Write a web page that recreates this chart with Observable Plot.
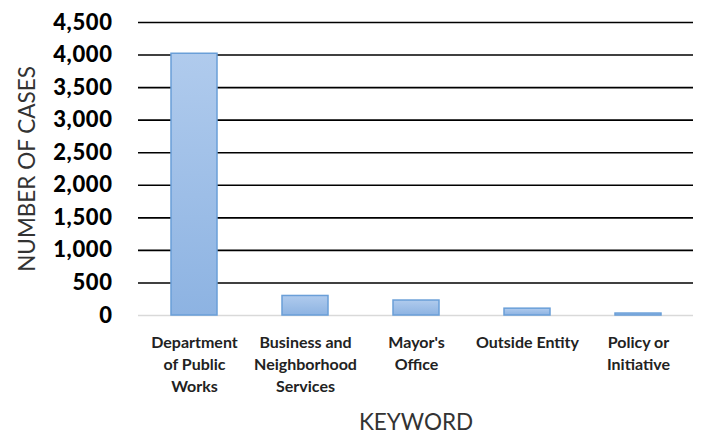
<!DOCTYPE html>
<html>
<head>
<meta charset="utf-8">
<script src="https://cdn.jsdelivr.net/npm/d3@7"></script>
<script src="https://cdn.jsdelivr.net/npm/@observablehq/plot@0.6"></script>
<style>
  body { margin: 0; background: #fff; }
  #chart { width: 702px; height: 435px; }
  svg { font-family: Lato, "Open Sans", sans-serif; }
</style>
</head>
<body>
<div id="chart"></div>
<script>
const categories = ["Department of Public Works", "Business and Neighborhood Services", "Mayor's Office", "Outside Entity", "Policy or Initiative"];
const categoryLabels = ["Department\nof Public\nWorks", "Business and\nNeighborhood\nServices", "Mayor's\nOffice", "Outside Entity", "Policy or\nInitiative"];
const cases = [4020, 300, 230, 105, 30];
const yTicks = [0, 500, 1000, 1500, 2000, 2500, 3000, 3500, 4000, 4500];

const data = categories.map((c, i) => ({category: c, label: categoryLabels[i], value: cases[i]}));
const labelOf = new Map(data.map(d => [d.category, d.label]));

const plot = Plot.plot({
  width: 702,
  height: 435,
  marginLeft: 138,
  marginRight: 9,
  marginTop: 22,
  marginBottom: 120,
  style: {fontFamily: "Lato, 'Open Sans', sans-serif", background: "#fff", overflow: "visible"},
  x: {domain: categories, paddingInner: 0.59, paddingOuter: 0.295},
  y: {domain: [0, 4500]},
  marks: [
    Plot.gridY(yTicks.filter(t => t > 0), {stroke: "#000", strokeOpacity: 1, strokeWidth: 1.6}),
    Plot.ruleY([0], {stroke: "#d9d9d9", strokeWidth: 1.5}),
    Plot.barY(data, {x: "category", y: "value", fill: "url(#barGrad)", stroke: "#6a9fd8", strokeWidth: 1.5}),
    Plot.axisY({ticks: yTicks, tickFormat: d3.format(","), tickSize: 0, tickPadding: 26,
      fontSize: 22, fontWeight: 900, fill: "#000",
      label: "NUMBER OF CASES", labelAnchor: "center", labelOffset: 119}),
    Plot.axisX({tickSize: 0, tickPadding: 17, tickFormat: d => labelOf.get(d), fontSize: 16, fontWeight: "bold",
      fill: "#222", lineHeight: 1.375,
      label: "KEYWORD", labelAnchor: "center", labelOffset: 114})
  ]
});

// gradient for bars
const ns = "http://www.w3.org/2000/svg";
const defs = document.createElementNS(ns, "defs");
const grad = document.createElementNS(ns, "linearGradient");
grad.setAttribute("id", "barGrad");
grad.setAttribute("x1", "0"); grad.setAttribute("y1", "0");
grad.setAttribute("x2", "0"); grad.setAttribute("y2", "1");
[["0%", "#b0cbed"], ["100%", "#8db3e2"]].forEach(([o, c]) => {
  const s = document.createElementNS(ns, "stop");
  s.setAttribute("offset", o); s.setAttribute("stop-color", c);
  grad.appendChild(s);
});
defs.appendChild(grad);
plot.insertBefore(defs, plot.firstChild);

// axis label styling (remove arrow, match font)
plot.querySelectorAll("[aria-label='y-axis label'] text, [aria-label='x-axis label'] text").forEach(t => {
  t.textContent = t.textContent.replace(/\s*[↑→←↓]\s*/g, "").trim();
  t.setAttribute("font-size", "22.5");
  t.setAttribute("font-weight", "normal");
  t.setAttribute("fill", "#333");
});
plot.querySelectorAll("[aria-label='y-axis tick label'] text").forEach(t => {
  t.setAttribute("letter-spacing", "0.6");
});

document.getElementById("chart").appendChild(plot);
</script>
</body>
</html>
